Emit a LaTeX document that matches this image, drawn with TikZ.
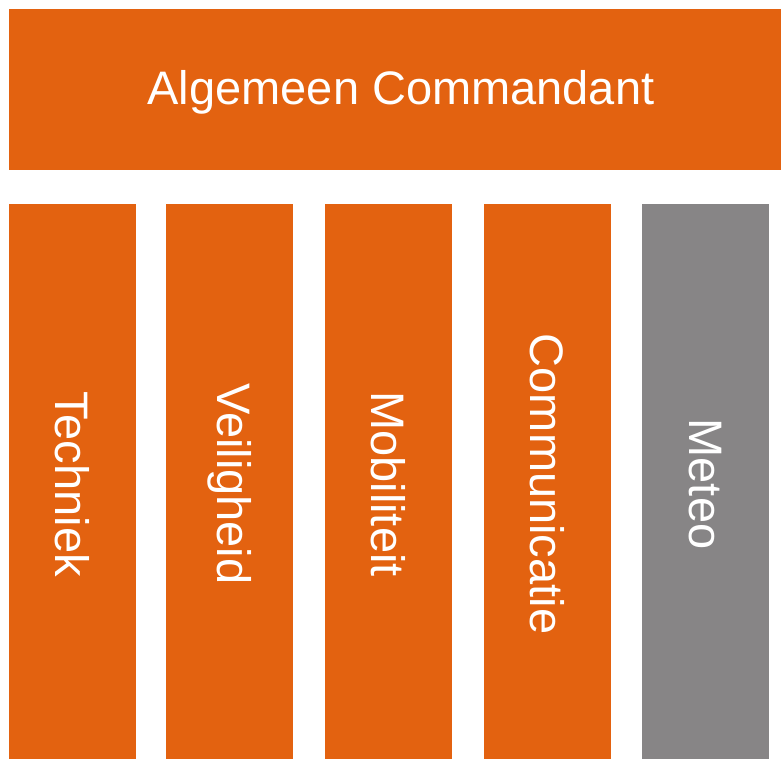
\documentclass[tikz,border=0pt]{standalone}
\usepackage{fontspec}
\setmainfont{Liberation Sans}
\usepackage{xcolor}
\definecolor{blockorange}{RGB}{227,98,16}
\definecolor{blockgray}{RGB}{135,133,134}

\begin{document}
\begin{tikzpicture}[
    x=1pt, y=-1pt,
    topblock/.style={rectangle, fill=blockorange, minimum width=784pt, minimum height=161pt, inner sep=0pt, text=white, font=\fontsize{47}{56}\selectfont},
    pillar/.style={rectangle, fill=blockorange, minimum width=560pt, minimum height=127pt, inner sep=0pt, rotate=-90, text=white, font=\fontsize{47}{56}\selectfont},
    greypillar/.style={pillar, fill=blockgray}
]
\useasboundingbox (0,0) rectangle (781,758);

% top block
\node[topblock] (cmd) at (401, 89.5) {};
\node[text=white, font=\fontsize{47}{56}\selectfont, anchor=base] (cmdtext) at (401, 104.5) {Algemeen Commandant};

% pillars below
\node[pillar] (tech) at (72.5, 484) {Techniek};
\node[pillar] (veil) at (229.5, 484) {Veiligheid};
\node[pillar] (mob) at (388.5, 484) {Mobiliteit};
\node[pillar] (comm) at (547.5, 484) {Communicatie};
\node[greypillar] (meteo) at (705.5, 484) {Meteo};
\end{tikzpicture}
\end{document}
